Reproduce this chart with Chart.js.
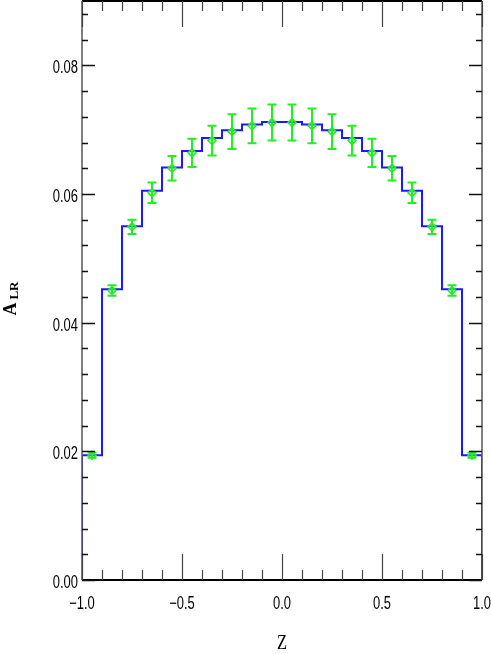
<!DOCTYPE html>
<html>
<head>
<meta charset="utf-8">
<script src="https://cdn.jsdelivr.net/npm/chart.js@4.4.1/dist/chart.umd.min.js"></script>
<style>
  body { margin: 0; background: #fff; }
  canvas { display: block; }
</style>
</head>
<body>
<canvas id="alrChart" width="491" height="654"></canvas>
<script>
// histogram bins (edges) and heights
const binEdges = [-1.0, -0.9, -0.8, -0.7, -0.6, -0.5, -0.4, -0.3, -0.2, -0.1, 0.0,
                  0.1, 0.2, 0.3, 0.4, 0.5, 0.6, 0.7, 0.8, 0.9, 1.0];
const histValues = [0.0194, 0.0452, 0.0550, 0.0605, 0.0641, 0.0667, 0.0687, 0.0699, 0.0708, 0.0712,
                    0.0712, 0.0708, 0.0699, 0.0687, 0.0667, 0.0641, 0.0605, 0.0550, 0.0452, 0.0194];

// measured points with errors
const binCenters = [-0.95, -0.85, -0.75, -0.65, -0.55, -0.45, -0.35, -0.25, -0.15, -0.05,
                    0.05, 0.15, 0.25, 0.35, 0.45, 0.55, 0.65, 0.75, 0.85, 0.95];
const pointValues = [0.0194, 0.0450, 0.0549, 0.0602, 0.0640, 0.0664, 0.0683, 0.0697, 0.0706, 0.0711,
                     0.0711, 0.0706, 0.0697, 0.0683, 0.0664, 0.0640, 0.0602, 0.0549, 0.0450, 0.0194];
const pointErrors = [0.0004, 0.0008, 0.0011, 0.0016, 0.0019, 0.0022, 0.0023, 0.0027, 0.0027, 0.0028,
                     0.0028, 0.0027, 0.0027, 0.0023, 0.0022, 0.0019, 0.0016, 0.0011, 0.0008, 0.0004];

// axis ticks
const xTickValues = [-1.0, -0.5, 0.0, 0.5, 1.0];
const yTickValues = [0.00, 0.02, 0.04, 0.06, 0.08];

const labelFont = "'Liberation Sans', 'DejaVu Sans', sans-serif";
const titleFont = "'Liberation Serif', 'DejaVu Serif', serif";

// step line through the bin edges
const histData = [{ x: binEdges[0], y: 0 }];
histValues.forEach((v, i) => histData.push({ x: binEdges[i], y: v }));
histData.push({ x: binEdges[binEdges.length - 1], y: histValues[histValues.length - 1] });
histData.push({ x: binEdges[binEdges.length - 1], y: 0 });

const pointData = binCenters.map((x, i) => ({ x: x, y: pointValues[i] }));

const fmtX = (v) => (v < 0 ? '\u2212' + Math.abs(v).toFixed(1) : v.toFixed(1));
const fmtY = (v) => v.toFixed(2);

// narrow text, squeezed horizontally like the original
function narrowText(ctx, text, x, y, align, sx) {
    ctx.save();
    ctx.translate(x, y);
    ctx.scale(sx, 1);
    ctx.textAlign = align;
    ctx.fillText(text, 0, 0);
    ctx.restore();
}

// error bars, frame, inward ticks, tick labels and y title
const decorPlugin = {
    id: 'decor',
    afterDatasetsDraw(chart) {
        const ctx = chart.ctx;
        const xs = chart.scales.x, ys = chart.scales.y;
        ctx.save();
        ctx.strokeStyle = '#22ee22';
        ctx.lineWidth = 2;
        binCenters.forEach((c, i) => {
            const px = xs.getPixelForValue(c);
            const top = ys.getPixelForValue(pointValues[i] + pointErrors[i]);
            const bot = ys.getPixelForValue(pointValues[i] - pointErrors[i]);
            ctx.beginPath();
            ctx.moveTo(px, top); ctx.lineTo(px, bot);
            ctx.moveTo(px - 4.5, top); ctx.lineTo(px + 4.5, top);
            ctx.moveTo(px - 4.5, bot); ctx.lineTo(px + 4.5, bot);
            ctx.stroke();
        });
        ctx.restore();
    },
    afterDraw(chart) {
        const ctx = chart.ctx;
        const a = chart.chartArea;
        const xs = chart.scales.x, ys = chart.scales.y;
        ctx.save();
        // frame
        ctx.strokeStyle = '#000';
        ctx.lineWidth = 2;
        ctx.beginPath();
        ctx.moveTo(a.left, a.top); ctx.lineTo(a.right, a.top);
        ctx.moveTo(a.left, a.bottom); ctx.lineTo(a.right, a.bottom);
        ctx.stroke();
        ctx.strokeStyle = '#555';
        ctx.lineWidth = 1.5;
        ctx.beginPath();
        ctx.moveTo(a.left, a.top); ctx.lineTo(a.left, a.bottom);
        ctx.moveTo(a.right, a.top); ctx.lineTo(a.right, a.bottom);
        ctx.stroke();

        // x ticks, every 0.1, long every 0.5
        ctx.strokeStyle = '#444';
        ctx.lineWidth = 1.2;
        ctx.beginPath();
        for (let k = -10; k <= 10; k++) {
            const px = Math.round(xs.getPixelForValue(k / 10)) + 0.5;
            const len = (k % 5 === 0) ? 26 : 10;
            ctx.moveTo(px, a.bottom); ctx.lineTo(px, a.bottom - len);
            ctx.moveTo(px, a.top); ctx.lineTo(px, a.top + len);
        }
        ctx.stroke();

        // y ticks, every 0.004, long every 0.02
        ctx.strokeStyle = '#111';
        ctx.lineWidth = 1.5;
        ctx.beginPath();
        for (let k = 0; k <= 22; k++) {
            const py = Math.round(ys.getPixelForValue(k * 0.004)) + 0.5;
            const len = (k % 5 === 0) ? 13 : 6;
            ctx.moveTo(a.left, py); ctx.lineTo(a.left + len, py);
            ctx.moveTo(a.right, py); ctx.lineTo(a.right - len, py);
        }
        ctx.stroke();

        // tick labels
        ctx.fillStyle = '#000';
        ctx.font = '18px ' + labelFont;
        ctx.textBaseline = 'middle';
        yTickValues.forEach(v => {
            narrowText(ctx, fmtY(v), a.left - 4, ys.getPixelForValue(v) + 3, 'right', 0.72);
        });
        xTickValues.forEach(v => {
            narrowText(ctx, fmtX(v), xs.getPixelForValue(v), a.bottom + 24, 'center', 0.72);
        });

        // x title
        ctx.font = '22px ' + titleFont;
        narrowText(ctx, 'Z', xs.getPixelForValue(0), a.bottom + 63, 'center', 0.75);

        // y title A_LR
        ctx.translate(16, ys.getPixelForValue(0.0411));
        ctx.rotate(-Math.PI / 2);
        ctx.textBaseline = 'alphabetic';
        ctx.textAlign = 'left';
        ctx.font = 'bold 18px ' + titleFont;
        const wA = ctx.measureText('A').width;
        ctx.fillText('A', 0, 0);
        ctx.font = 'bold 13px ' + titleFont;
        ctx.fillText('LR', wA + 3, 2);
        ctx.restore();
    }
};

const ctx = document.getElementById('alrChart').getContext('2d');
new Chart(ctx, {
    type: 'scatter',
    data: {
        datasets: [{
            label: 'data',
            data: pointData,
            order: 0,
            pointStyle: 'rectRot',
            pointRadius: 4,
            pointBorderWidth: 1.5,
            pointBorderColor: '#22ee22',
            pointBackgroundColor: 'rgba(150,255,150,0.4)',
            showLine: false
        }, {
            label: 'histogram',
            data: histData,
            order: 1,
            showLine: true,
            stepped: true,
            borderColor: '#1a1aff',
            borderWidth: 2,
            pointRadius: 0,
            fill: false
        }]
    },
    options: {
        responsive: false,
        devicePixelRatio: 1,
        animation: false,
        layout: { autoPadding: false, padding: { top: 1, right: 9, left: 0, bottom: 0 } },
        plugins: {
            legend: { display: false },
            tooltip: { enabled: false }
        },
        scales: {
            x: {
                type: 'linear',
                min: -1,
                max: 1,
                afterBuildTicks: (scale) => { scale.ticks = xTickValues.map(v => ({ value: v })); },
                afterFit: (scale) => { scale.height = 74; scale.paddingLeft = 0; scale.paddingRight = 0; },
                grid: { display: false, drawTicks: false },
                border: { display: false },
                ticks: { display: false }
            },
            y: {
                min: 0,
                max: 0.09,
                afterBuildTicks: (scale) => { scale.ticks = yTickValues.map(v => ({ value: v })); },
                afterFit: (scale) => { scale.width = 82; scale.paddingTop = 0; scale.paddingBottom = 0; },
                grid: { display: false, drawTicks: false },
                border: { display: false },
                ticks: { display: false }
            }
        }
    },
    plugins: [decorPlugin]
});
</script>
</body>
</html>
